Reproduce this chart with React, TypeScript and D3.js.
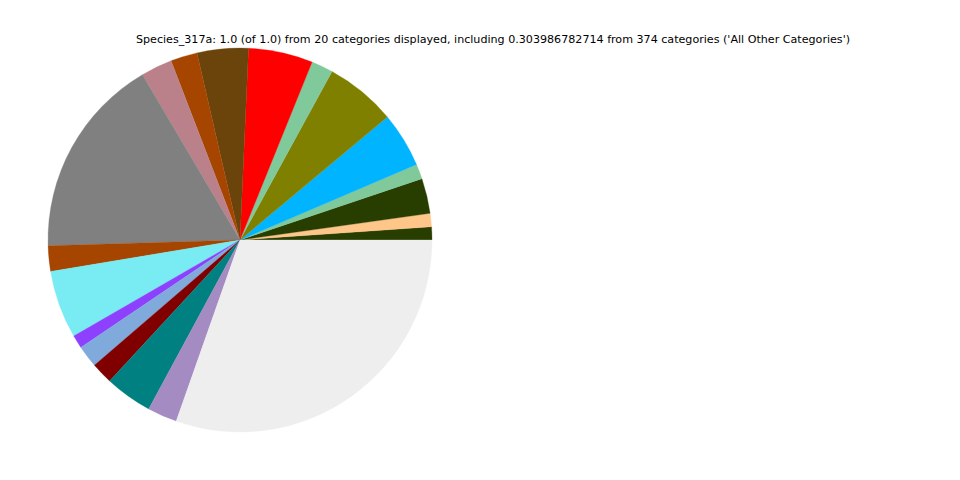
import React from "react";
import * as d3 from "d3";

const categories = [
  "Cat 1", "Cat 2", "Cat 3", "Cat 4", "Cat 5", "Cat 6", "Cat 7", "Cat 8", "Cat 9", "Cat 10",
  "Cat 11", "Cat 12", "Cat 13", "Cat 14", "Cat 15", "Cat 16", "Cat 17", "Cat 18", "Cat 19",
  "All Other Categories",
];
const values = [
  0.0110, 0.0112, 0.0296, 0.0126, 0.0464, 0.0597, 0.0183, 0.0542, 0.0431, 0.0225,
  0.0264, 0.1700, 0.0214, 0.0572, 0.0111, 0.0186, 0.0181, 0.0400, 0.0250, 0.303986782714,
];
const colors = [
  "#283d00", "#ffc68a", "#283d00", "#7fc99a", "#00b4ff", "#808000", "#7fc99a", "#ff0000",
  "#6b440b", "#a54500", "#bb818a", "#808080", "#a54500", "#78ecf2", "#8e40ff", "#7faadb",
  "#800000", "#008080", "#a48bc2", "#eeeeee",
];
const title =
  "Species_317a: 1.0 (of 1.0) from 20 categories displayed, including 0.303986782714 from 374 categories ('All Other Categories')";

const W = 960;
const H = 480;
const cx = 240;
const cy = 240;
const R = 192;

export default function App() {
  const data = categories.map((c, i) => ({ c, v: values[i], color: colors[i] }));
  const pie = d3
    .pie<{ c: string; v: number; color: string }>()
    .value((d) => d.v)
    .sort(null)
    .startAngle(Math.PI / 2)
    .endAngle(Math.PI / 2 - 2 * Math.PI);
  const arc = d3.arc<d3.PieArcDatum<{ c: string; v: number; color: string }>>().innerRadius(0).outerRadius(R);
  const arcs = pie(data);
  return (
    <svg width={W} height={H} style={{ position: "absolute", left: 0, top: 0, background: "#fff" }}>
      <g transform={`translate(${cx},${cy})`}>
        {arcs.map((a, i) => (
          <path key={i} d={arc(a) || ""} fill={a.data.color} stroke={a.data.color} strokeWidth={0.3} />
        ))}
      </g>
      <text
        x={493}
        y={43}
        textAnchor="middle"
        fontFamily="DejaVu Sans"
        fontSize={11.12}
        fill="#000"
      >
        {title}
      </text>
    </svg>
  );
}
